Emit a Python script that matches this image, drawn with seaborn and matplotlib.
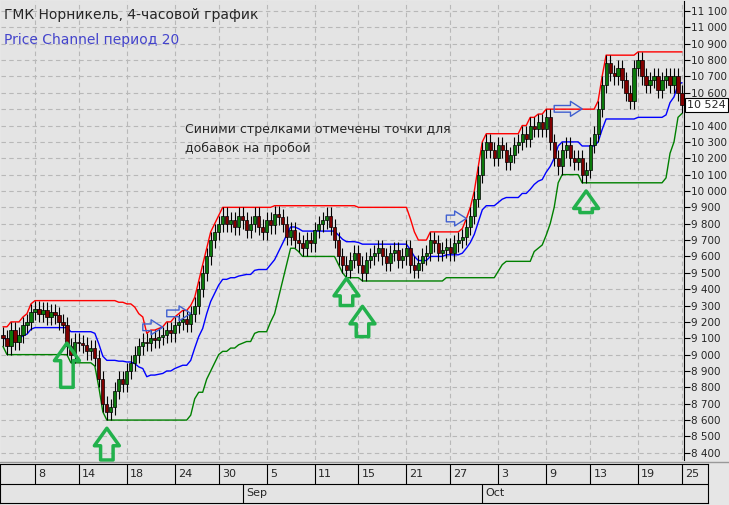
import numpy as np
import pandas as pd
import matplotlib
matplotlib.use("Agg")
import matplotlib.pyplot as plt
import seaborn as sns

# closes of the 4-hour bars
closes = [
    9100, 9050, 9150, 9080, 9120, 9180, 9200, 9260, 9280, 9250,
    9270, 9230, 9260, 9240, 9200, 9180, 9050, 9000, 9080, 9070,
    9060, 9020, 9040, 8980, 8850, 8700, 8650, 8680, 8780, 8850,
    8820, 8900, 8950, 9000, 9050, 9080, 9070, 9100, 9090, 9110,
    9120, 9150, 9130, 9180, 9200, 9220, 9190, 9250, 9300, 9400,
    9500, 9600, 9700, 9750, 9800, 9850, 9800, 9820, 9780, 9850,
    9820, 9760, 9800, 9850, 9780, 9750, 9820, 9790, 9860, 9840,
    9800, 9720, 9760, 9700, 9680, 9650, 9700, 9680, 9760, 9800,
    9820, 9850, 9780, 9700, 9600, 9550, 9520, 9580, 9620, 9550,
    9500, 9580, 9600, 9620, 9650, 9600, 9560, 9620, 9640, 9580,
    9600, 9650, 9550, 9520, 9560, 9600, 9620, 9700, 9680, 9620,
    9640, 9660, 9620, 9680, 9700, 9720, 9780, 9850, 9950, 10100,
    10250, 10300, 10250, 10200, 10280, 10250, 10180, 10220, 10280, 10300,
    10350, 10320, 10400, 10380, 10420, 10380, 10450, 10300, 10200, 10150,
    10250, 10280, 10200, 10180, 10200, 10100, 10130, 10280, 10350, 10500,
    10650, 10780, 10720, 10700, 10750, 10680, 10600, 10550, 10750, 10800,
    10700, 10650, 10680, 10700, 10620, 10680, 10700, 10650, 10700, 10600,
    10524,
]
wick = 50
period = 20

date_labels = ["8", "14", "18", "24", "30", "5", "11", "15", "21", "27", "3", "9", "13", "19", "25"]
date_bars = [8, 19, 31, 43, 54, 66, 78, 89, 101, 112, 124, 136, 147, 159, 170]
month_labels = ["Sep", "Oct"]
month_bars = [60, 120]

green_arrows = [(16, 9070, 8800), (26, 8550, 8356), (86, 9466, 9300), (90, 9295, 9110), (146, 10000, 9868)]
blue_arrows = [(35, 40, 9167), (41, 47, 9252), (111, 116, 9832), (138, 145, 10502)]

df = pd.DataFrame({"close": closes})
df["open"] = df["close"].shift(1).fillna(df["close"].iloc[0] + 20)
df["high"] = df[["open", "close"]].max(axis=1) + wick
df["low"] = df[["open", "close"]].min(axis=1) - wick
df["upper"] = df["high"].rolling(period, min_periods=1).max()
df["lower"] = df["low"].rolling(period, min_periods=1).min()
df["mid"] = (df["upper"] + df["lower"]) / 2
df["x"] = np.arange(len(df))

sns.set_style("white")
plt.rcParams["font.family"] = ["DejaVu Sans"]

W, H = 729, 505
fig = plt.figure(figsize=(W / 100, H / 100), dpi=100, facecolor="#e6e6e6")
ax = fig.add_axes([1 / W, 1 - 460 / H, 683 / W, 459 / H], facecolor="#e4e4e4")

for side in ["top", "left", "bottom"]:
    ax.spines[side].set_visible(False)
ax.spines["right"].set_color("black")

# candles
for _, r in df.iterrows():
    ax.vlines(r.x, r.low, r.high, color="black", lw=0.8, zorder=3)
    up = r.close >= r.open
    col = "#0b7a0b" if up else "#800000"
    lo, hi = min(r.open, r.close), max(r.open, r.close)
    ax.bar(r.x, max(hi - lo, 4), bottom=lo, width=0.8, color=col, edgecolor="black", lw=0.5, zorder=4)

sns.lineplot(data=df, x="x", y="upper", ax=ax, color="red", lw=1, zorder=2)
sns.lineplot(data=df, x="x", y="mid", ax=ax, color="blue", lw=1, zorder=2)
sns.lineplot(data=df, x="x", y="lower", ax=ax, color="green", lw=1, zorder=2)

for x, tip, base in green_arrows:
    ax.annotate("", xy=(x, tip), xytext=(x, base),
                arrowprops=dict(arrowstyle="simple,head_width=1.0,head_length=0.7,tail_width=0.5",
                                mutation_scale=18, fc="none", ec="#22b14c", lw=2.5,
                                shrinkA=0, shrinkB=0), zorder=5)
for x0, x1, y in blue_arrows:
    ax.annotate("", xy=(x1, y), xytext=(x0, y),
                arrowprops=dict(arrowstyle="simple,head_width=0.9,head_length=0.7,tail_width=0.4",
                                mutation_scale=12, fc="none", ec="#4060d0", lw=1,
                                shrinkA=0, shrinkB=0), zorder=5)

ax.set_xlim(-0.5, 170.5)
ax.set_ylim(8356, 11161)
ax.set_xticks(date_bars)
ax.set_xticklabels([])
ax.tick_params(axis="x", length=0)
ax.yaxis.tick_right()
yt = np.arange(8400, 11101, 100)
ax.set_yticks(yt)
ax.set_yticklabels(["" if v == 10500 else f"{v // 1000} {v % 1000:03d}" for v in yt], fontsize=7.5)
ax.tick_params(axis="y", length=4, pad=1, direction="out", color="black")
ax.grid(True, color="#b8b8b8", ls=(0, (4, 3)), lw=0.8)
ax.set_xlabel("")
ax.set_ylabel("")

ax.text(0.005, 0.985, "ГМК Норникель, 4-часовой график", transform=ax.transAxes, fontsize=10, va="top")
ax.text(0.005, 0.93, "Price Channel период 20", transform=ax.transAxes, fontsize=10, va="top", color="#4444cc")
ax.text(0.27, 0.735, "Синими стрелками отмечены точки для\nдобавок на пробой", transform=ax.transAxes,
        fontsize=9, va="top", linespacing=1.6)
ax.text(1.005, 10524, "10 524", transform=ax.get_yaxis_transform(), fontsize=8, va="center",
        bbox=dict(boxstyle="square,pad=0.2", fc="white", ec="black", lw=0.8))

# date strip, same bar scale as the chart
dax = fig.add_axes([0, 2 / H, 708 / W, 39 / H], facecolor="#e4e4e4")
dax.set_xlim(-0.75, -0.75 + 708 / (683 / 171))
dax.set_ylim(0, 2)
dax.set_xticks([])
dax.set_yticks([])
for s in dax.spines.values():
    s.set_color("black")
dax.axhline(1, color="black", lw=0.8)
for b, lab in zip(date_bars, date_labels):
    dax.plot([b, b], [1, 2], color="black", lw=0.8)
    dax.text(b + 0.8, 1.5, lab, fontsize=8, va="center")
for b, lab in zip(month_bars, month_labels):
    dax.plot([b, b], [0, 1], color="black", lw=0.8)
    dax.text(b + 0.8, 0.5, lab, fontsize=8, va="center")

fig.add_artist(plt.Line2D([0, 1], [1 - 462 / H, 1 - 462 / H], color="#999999", lw=1))
fig.savefig("out.png", dpi=100, facecolor=fig.get_facecolor())
